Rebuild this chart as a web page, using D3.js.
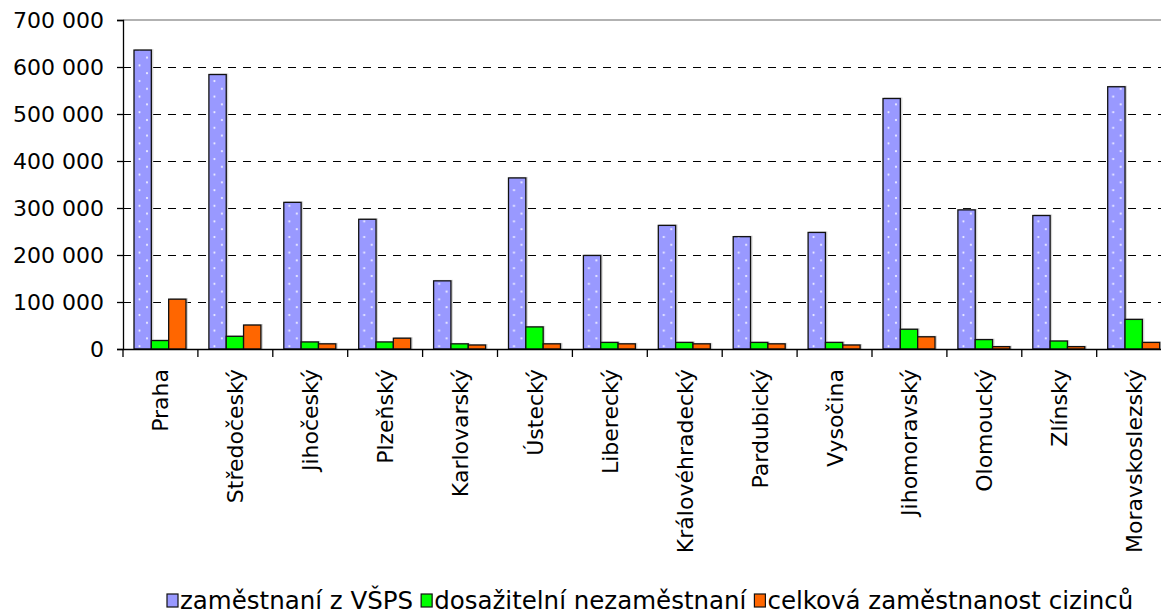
<!DOCTYPE html>
<html><head><meta charset="utf-8">
<script src="https://cdn.jsdelivr.net/npm/d3@7"></script>
<style>
body{margin:0;background:#fff;}
text{font-family:"DejaVu Sans",Verdana,sans-serif;fill:#000;}
</style></head>
<body><svg id="c" width="1161" height="614"></svg>
<script>
const categories = ["Praha","Středočeský","Jihočeský","Plzeňský","Karlovarský","Ústecký","Liberecký","Královéhradecký","Pardubický","Vysočina","Jihomoravský","Olomoucký","Zlínsky","Moravskoslezský"];
const seriesNames = ["zaměstnaní z VŠPS","dosažitelní nezaměstnaní","celková zaměstnanost cizinců"];
const employedVSPS = [636000,584000,312000,276000,145000,364000,199000,263000,239000,248000,533000,296000,284000,558000];
const unemployed = [18000,27000,15000,15000,11000,47000,14000,14000,14000,14000,42000,20000,17000,63000];
const foreigners = [106000,51000,11000,23000,8500,11000,11000,11000,11000,8500,26000,5000,5000,14000];
const yTicks = [0,100000,200000,300000,400000,500000,600000,700000];

(function(){
const svg = d3.select("#c");
const mLeft = 123, mTop = 20, mBottom = 349, bandW = 74.9;
const mRight = mLeft + bandW * categories.length;

const defs = svg.append("defs");
const pat = defs.append("pattern").attr("id","dots").attr("patternUnits","userSpaceOnUse")
  .attr("width",15).attr("height",15.6);
pat.append("rect").attr("width",15).attr("height",15.6).attr("fill","#9999FF");
pat.append("circle").attr("cx",1.5).attr("cy",3).attr("r",1.1).attr("fill","#fff").attr("opacity",0.85);
pat.append("circle").attr("cx",9).attr("cy",10.8).attr("r",1.1).attr("fill","#fff").attr("opacity",0.85);

const fills = ["url(#dots)","#00FF00","#FF6600"];
const legendFills = ["#9999FF","#00FF00","#FF6600"];

const x = d3.scaleBand().domain(categories).range([mLeft,mRight]).padding(0);
const x1 = d3.scaleBand().domain(seriesNames).range([11,63]).padding(0);
const y = d3.scaleLinear().domain([0,700000]).range([mBottom,mTop]);

const loc = d3.formatLocale({decimal:",",thousands:"\u00a0",grouping:[3],currency:["",""]});
const fmt = loc.format(",d");

// gridlines
svg.append("g").selectAll("line").data(yTicks.filter(t=>t>0 && t<700000)).join("line")
  .attr("x1",mLeft).attr("x2",1161).attr("y1",d=>y(d)).attr("y2",d=>y(d))
  .attr("stroke","#000").attr("stroke-width",1).attr("stroke-dasharray","8,7")
  .attr("shape-rendering","crispEdges");
// top border
svg.append("line").attr("x1",mLeft).attr("x2",1161).attr("y1",y(700000)).attr("y2",y(700000))
  .attr("stroke","#999").attr("stroke-width",1.5);

// bars
const data = [employedVSPS, unemployed, foreigners];
const groups = svg.append("g").selectAll("g").data(categories).join("g")
  .attr("transform",d=>`translate(${x(d)},0)`);
groups.selectAll("rect.shadow").data((d,i)=>seriesNames.map((s,k)=>({s,k,v:data[k][i]}))).join("rect")
  .attr("class","shadow")
  .attr("x",d=>x1(d.s)+1).attr("y",d=>y(d.v)-1).attr("width",x1.bandwidth()+1).attr("height",d=>mBottom-y(d.v)+1)
  .attr("fill","#bbb").attr("opacity",0.6);
groups.selectAll("rect.bar").data((d,i)=>seriesNames.map((s,k)=>({s,k,v:data[k][i]}))).join("rect")
  .attr("class","bar")
  .attr("x",d=>x1(d.s)).attr("y",d=>y(d.v)).attr("width",x1.bandwidth()).attr("height",d=>mBottom-y(d.v))
  .attr("fill",d=>fills[d.k]).attr("stroke","#111").attr("stroke-width",1.3);

// y axis
const yAxis = d3.axisLeft(y).tickValues(yTicks).tickFormat(fmt).tickSize(6).tickPadding(13);
const ga = svg.append("g").attr("transform",`translate(${mLeft},0)`).call(yAxis);
ga.select(".domain").attr("stroke","#000").attr("stroke-width",1.3);
ga.selectAll(".tick line").attr("stroke","#000").attr("stroke-width",1.3);
ga.selectAll(".tick text").attr("font-size",22).attr("font-family",'"DejaVu Sans",Verdana,sans-serif')
  .attr("dy","0.36em");

// x axis
const xAxis = d3.axisBottom(x).tickSize(8).tickFormat("").tickSizeOuter(0);
const gx = svg.append("g").attr("transform",`translate(0,${mBottom})`).call(xAxis);
gx.select(".domain").attr("stroke","#000").attr("stroke-width",1.5);
gx.selectAll(".tick line").attr("stroke","#000").attr("stroke-width",1.3)
  .attr("transform",`translate(${-bandW/2},0)`);

// category labels
svg.append("g").selectAll("text").data(categories).join("text")
  .attr("transform",d=>`translate(${x(d)+x.bandwidth()/2+8},${mBottom+20}) rotate(-90)`)
  .attr("text-anchor","end").attr("font-size",22).text(d=>d);

// legend
const lg = svg.append("g");
let lx = 167;
seriesNames.forEach((s,k)=>{
  lg.append("rect").attr("x",lx).attr("y",594).attr("width",11).attr("height",13)
    .attr("fill",legendFills[k]).attr("stroke","#111").attr("stroke-width",1.2);
  const t = lg.append("text").attr("x",lx+13).attr("y",609).attr("font-size",24.5)
    .attr("textLength",null).text(s);
  lx += 13 + t.node().getComputedTextLength() + 8;
});
})();
</script></body></html>
